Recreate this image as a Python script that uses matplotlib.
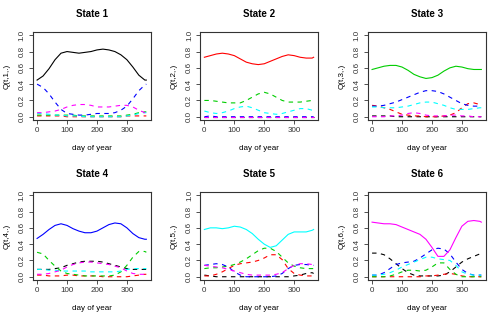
import matplotlib
matplotlib.use("Agg")
import matplotlib.pyplot as plt

plt.rcParams['font.family'] = ['Liberation Sans', 'DejaVu Sans']

# day of year sample points
days = [0, 20, 40, 60, 80, 100, 120, 140, 160, 180, 200, 220, 240, 260, 280, 300, 320, 340, 360, 365]

# Q(t, i, j): one block per current state i, one row per next state j = 1..6
s1_to = [
    [0.45, 0.50, 0.59, 0.70, 0.78, 0.80, 0.79, 0.78, 0.79, 0.80, 0.82, 0.83, 0.82, 0.80, 0.76, 0.70, 0.61, 0.51, 0.45, 0.45],
    [0.01, 0.01, 0.01, 0.01, 0.01, 0.00, 0.00, 0.00, 0.00, 0.00, 0.00, 0.00, 0.00, 0.00, 0.00, 0.01, 0.01, 0.01, 0.01, 0.01],
    [0.02, 0.02, 0.02, 0.02, 0.02, 0.02, 0.02, 0.01, 0.01, 0.01, 0.01, 0.01, 0.01, 0.01, 0.01, 0.02, 0.03, 0.05, 0.06, 0.06],
    [0.40, 0.36, 0.28, 0.18, 0.09, 0.04, 0.03, 0.02, 0.02, 0.03, 0.04, 0.04, 0.04, 0.05, 0.08, 0.13, 0.22, 0.32, 0.39, 0.40],
    [0.04, 0.04, 0.03, 0.02, 0.02, 0.01, 0.01, 0.01, 0.00, 0.00, 0.00, 0.00, 0.00, 0.00, 0.00, 0.01, 0.02, 0.04, 0.05, 0.05],
    [0.05, 0.05, 0.06, 0.07, 0.09, 0.12, 0.14, 0.15, 0.15, 0.14, 0.12, 0.12, 0.12, 0.13, 0.14, 0.14, 0.12, 0.08, 0.05, 0.05],
]
s2_to = [
    [0.00, 0.00, 0.00, 0.00, 0.00, 0.00, 0.00, 0.00, 0.00, 0.00, 0.00, 0.00, 0.00, 0.00, 0.00, 0.00, 0.00, 0.00, 0.00, 0.00],
    [0.73, 0.75, 0.77, 0.78, 0.77, 0.75, 0.71, 0.67, 0.65, 0.64, 0.65, 0.68, 0.71, 0.74, 0.76, 0.75, 0.73, 0.72, 0.72, 0.73],
    [0.20, 0.20, 0.19, 0.18, 0.17, 0.17, 0.17, 0.20, 0.24, 0.28, 0.30, 0.28, 0.24, 0.20, 0.18, 0.18, 0.18, 0.19, 0.20, 0.20],
    [0.00, 0.01, 0.00, 0.00, 0.00, 0.00, 0.00, 0.00, 0.00, 0.00, 0.00, 0.00, 0.00, 0.00, 0.00, 0.00, 0.00, 0.00, 0.00, 0.00],
    [0.07, 0.05, 0.04, 0.05, 0.07, 0.10, 0.12, 0.13, 0.11, 0.08, 0.05, 0.04, 0.03, 0.04, 0.06, 0.08, 0.10, 0.10, 0.08, 0.07],
    [0.00, 0.00, 0.00, 0.00, 0.00, 0.00, 0.00, 0.00, 0.00, 0.00, 0.00, 0.00, 0.00, 0.00, 0.00, 0.00, 0.00, 0.00, 0.00, 0.00],
]
s3_to = [
    [0.01, 0.01, 0.01, 0.01, 0.00, 0.00, 0.00, 0.00, 0.00, 0.00, 0.00, 0.00, 0.00, 0.00, 0.00, 0.00, 0.00, 0.00, 0.00, 0.00],
    [0.14, 0.13, 0.11, 0.09, 0.06, 0.03, 0.02, 0.01, 0.01, 0.00, 0.00, 0.00, 0.01, 0.02, 0.05, 0.11, 0.16, 0.17, 0.15, 0.15],
    [0.58, 0.60, 0.62, 0.63, 0.63, 0.61, 0.57, 0.52, 0.49, 0.47, 0.48, 0.51, 0.56, 0.60, 0.62, 0.61, 0.59, 0.58, 0.58, 0.58],
    [0.13, 0.13, 0.14, 0.16, 0.18, 0.21, 0.24, 0.27, 0.30, 0.32, 0.32, 0.31, 0.28, 0.24, 0.20, 0.16, 0.14, 0.13, 0.13, 0.13],
    [0.12, 0.12, 0.11, 0.11, 0.11, 0.12, 0.13, 0.15, 0.17, 0.18, 0.18, 0.16, 0.14, 0.11, 0.09, 0.09, 0.09, 0.10, 0.11, 0.11],
    [0.00, 0.00, 0.00, 0.01, 0.01, 0.02, 0.04, 0.05, 0.04, 0.02, 0.01, 0.01, 0.01, 0.02, 0.02, 0.01, 0.01, 0.00, 0.00, 0.00],
]
s4_to = [
    [0.09, 0.09, 0.09, 0.10, 0.11, 0.14, 0.16, 0.18, 0.19, 0.19, 0.19, 0.18, 0.16, 0.14, 0.12, 0.10, 0.09, 0.09, 0.09, 0.09],
    [0.02, 0.02, 0.01, 0.01, 0.01, 0.02, 0.02, 0.01, 0.01, 0.01, 0.01, 0.00, 0.00, 0.00, 0.00, 0.00, 0.01, 0.02, 0.03, 0.03],
    [0.30, 0.28, 0.20, 0.13, 0.07, 0.04, 0.03, 0.02, 0.01, 0.01, 0.01, 0.01, 0.01, 0.02, 0.06, 0.14, 0.24, 0.31, 0.31, 0.30],
    [0.47, 0.52, 0.58, 0.63, 0.65, 0.63, 0.59, 0.56, 0.54, 0.54, 0.56, 0.60, 0.64, 0.66, 0.65, 0.60, 0.53, 0.48, 0.46, 0.46],
    [0.09, 0.09, 0.08, 0.08, 0.07, 0.07, 0.07, 0.07, 0.07, 0.06, 0.06, 0.06, 0.06, 0.06, 0.07, 0.09, 0.10, 0.10, 0.10, 0.10],
    [0.03, 0.03, 0.04, 0.06, 0.08, 0.12, 0.15, 0.17, 0.18, 0.18, 0.17, 0.16, 0.15, 0.13, 0.11, 0.07, 0.04, 0.03, 0.03, 0.03],
]
s5_to = [
    [0.02, 0.01, 0.00, 0.00, 0.00, 0.00, 0.00, 0.00, 0.00, 0.00, 0.00, 0.00, 0.00, 0.00, 0.00, 0.01, 0.02, 0.04, 0.05, 0.04],
    [0.01, 0.01, 0.03, 0.06, 0.10, 0.14, 0.16, 0.17, 0.18, 0.20, 0.23, 0.27, 0.27, 0.21, 0.10, 0.04, 0.02, 0.01, 0.01, 0.01],
    [0.10, 0.11, 0.11, 0.12, 0.13, 0.15, 0.18, 0.22, 0.27, 0.32, 0.35, 0.35, 0.31, 0.24, 0.17, 0.13, 0.11, 0.10, 0.10, 0.10],
    [0.14, 0.15, 0.16, 0.15, 0.12, 0.06, 0.02, 0.00, 0.00, 0.00, 0.00, 0.00, 0.01, 0.04, 0.10, 0.14, 0.15, 0.15, 0.14, 0.14],
    [0.58, 0.60, 0.60, 0.59, 0.60, 0.62, 0.61, 0.58, 0.53, 0.46, 0.40, 0.36, 0.38, 0.45, 0.52, 0.55, 0.55, 0.55, 0.57, 0.58],
    [0.14, 0.13, 0.12, 0.11, 0.09, 0.07, 0.05, 0.03, 0.02, 0.02, 0.02, 0.02, 0.03, 0.05, 0.10, 0.14, 0.16, 0.16, 0.15, 0.15],
]
s6_to = [
    [0.29, 0.29, 0.27, 0.22, 0.16, 0.10, 0.05, 0.02, 0.01, 0.01, 0.01, 0.01, 0.02, 0.06, 0.12, 0.18, 0.22, 0.25, 0.28, 0.29],
    [0.00, 0.00, 0.00, 0.00, 0.00, 0.00, 0.00, 0.00, 0.00, 0.01, 0.01, 0.02, 0.03, 0.04, 0.03, 0.01, 0.00, 0.00, 0.00, 0.00],
    [0.00, 0.00, 0.00, 0.01, 0.03, 0.06, 0.08, 0.08, 0.07, 0.08, 0.12, 0.17, 0.17, 0.09, 0.03, 0.00, 0.00, 0.00, 0.00, 0.00],
    [0.02, 0.02, 0.05, 0.10, 0.15, 0.17, 0.18, 0.19, 0.23, 0.28, 0.33, 0.35, 0.34, 0.28, 0.18, 0.09, 0.04, 0.02, 0.02, 0.02],
    [0.02, 0.02, 0.03, 0.05, 0.08, 0.12, 0.15, 0.18, 0.21, 0.24, 0.24, 0.22, 0.21, 0.20, 0.14, 0.06, 0.03, 0.02, 0.02, 0.02],
    [0.67, 0.66, 0.65, 0.65, 0.64, 0.61, 0.58, 0.55, 0.52, 0.46, 0.36, 0.25, 0.25, 0.33, 0.48, 0.62, 0.68, 0.69, 0.68, 0.67],
]
states = [s1_to, s2_to, s3_to, s4_to, s5_to, s6_to]

# R default palette 1..6
colors = ['black', '#FF0000', '#00CD00', '#0000FF', '#00FFFF', '#FF00FF']

fig = plt.figure(figsize=(5.02, 3.2), dpi=100)
lefts = [32.7 / 502, 200 / 502, 367.7 / 502]
bottoms = [1 - 120 / 320, 1 - 280 / 320]
w, h = 118 / 502, 88 / 320

for i, rows in enumerate(states):
    ax = fig.add_axes([lefts[i % 3], bottoms[i // 3], w, h])
    for j, vals in enumerate(rows):
        if j == i:
            continue
        ax.plot(days, vals, color=colors[j], lw=0.8, ls=(0, (4, 4)))
    # own state drawn solid on top
    ax.plot(days, rows[i], color=colors[i], lw=0.8)
    ax.set_xlim(-14.6, 379.6)
    ax.set_ylim(-0.04, 1.04)
    ax.set_xticks([0, 100, 200, 300])
    ax.set_yticks([0.0, 0.2, 0.4, 0.6, 0.8, 1.0])
    ax.set_yticklabels(['0.0', '0.2', '0.4', '0.6', '0.8', '1.0'], rotation=90, va='center')
    ax.tick_params(labelsize=5.8, length=3, width=0.6, pad=2, colors='#333333')
    for sp in ax.spines.values():
        sp.set_linewidth(0.8)
        sp.set_color('#333333')
    ax.set_title(f'State {i + 1}', fontsize=7, fontweight='bold', pad=11)
    ax.set_xlabel('day of year', fontsize=5.8, labelpad=8)
    ax.set_ylabel(f'Q(t,{i + 1},.)', fontsize=5.8, labelpad=6)

fig.savefig('out.png', dpi=100)
